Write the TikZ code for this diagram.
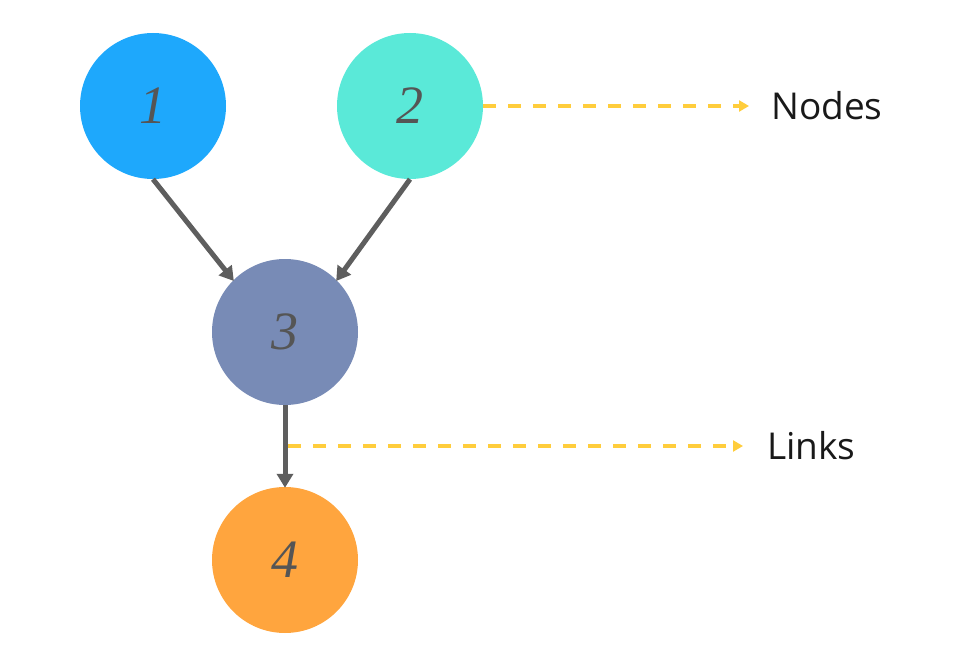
\documentclass[tikz,border=0pt]{standalone}
\usepackage{fontspec}
\setmainfont{Liberation Serif}
\newfontfamily\labelfont{Open Sans}
\usetikzlibrary{arrows.meta}
\definecolor{cone}{HTML}{1EA8FC}
\definecolor{ctwo}{HTML}{5AE9D8}
\definecolor{cthree}{HTML}{788BB6}
\definecolor{cfour}{HTML}{FFA53E}
\definecolor{linkgray}{HTML}{5E5E5E}
\definecolor{dashyellow}{HTML}{FFCD3C}
\definecolor{numgray}{HTML}{555555}
\tikzset{
  vnode/.style={circle, minimum size=146pt, inner sep=0pt,
    font=\fontsize{54}{54}\selectfont\itshape, text=numgray},
  link/.style={draw=linkgray, line width=5pt,
    -{Triangle[length=14pt,width=16pt]}, shorten >=-1pt},
  callout/.style={draw=dashyellow, line width=3.5pt, dash pattern=on 13pt off 12pt,
    -{Triangle[length=10pt,width=11pt]}},
  lbl/.style={font=\labelfont\fontsize{37}{37}\selectfont, text=black!90, anchor=west, inner sep=0pt}
}
\begin{document}
\begin{tikzpicture}[x=1pt,y=-1pt]
\useasboundingbox (0,0) rectangle (954,650);
\node[vnode, fill=cone] (n1) at (153,106) {1};
\node[vnode, fill=ctwo] (n2) at (410,106) {2};
\node[vnode, fill=cthree] (n3) at (285,332) {3};
\node[vnode, fill=cfour] (n4) at (285,560) {4};
\draw[link] (n1.south) -- (n3.135);
\draw[link] (n2.south) -- (n3.45);
\draw[link] (n3.south) -- (n4.north);
\coordinate (nodesend) at (749,106);
\coordinate (linksstart) at (288,446);
\coordinate (linksend) at (743,446);
\draw[callout] (n2.east) -- (nodesend);
\draw[callout] (linksstart) -- (linksend);
\node[lbl] (tnodes) at (771,106) {Nodes};
\node[lbl] (tlinks) at (767,446) {Links};
\end{tikzpicture}
\end{document}
